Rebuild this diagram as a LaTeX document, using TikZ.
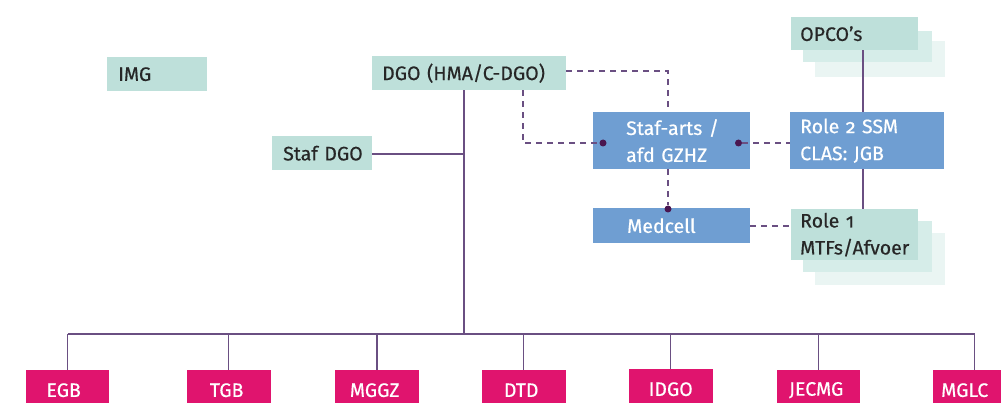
\documentclass[tikz,border=0pt]{standalone}
\usepackage{fontspec}
\setmainfont[Numbers=OldStyle,FakeBold=0.5]{Fira Sans}
\definecolor{mint}{HTML}{BEE0DA}
\definecolor{mintB}{HTML}{D6EDE9}
\definecolor{mintC}{HTML}{EAF5F3}
\definecolor{bluebox}{HTML}{6F9ED2}
\definecolor{magbox}{HTML}{E0146E}
\definecolor{linec}{HTML}{6A4F82}
\definecolor{dotc}{HTML}{4A1650}
\tikzset{
  box/.style={rectangle, anchor=north west, inner sep=0pt, align=left, font=\fontsize{19.5}{27}\selectfont},
  mintbox/.style={box, fill=mint, text=black!85},
  bluebx/.style={box, fill=bluebox, text=white},
  magbx/.style={box, fill=magbox, text=white, align=center},
  conn/.style={draw=linec, line width=1.1pt},
  dconn/.style={draw=linec, line width=1.1pt, dash pattern=on 6pt off 5pt},
  dotn/.style={circle, fill=dotc, inner sep=0pt, minimum size=7pt}
}
\newcommand{\lp}[1]{\hspace*{#1pt}}
\begin{document}
\begin{tikzpicture}[x=1pt,y=-1pt]
\useasboundingbox (0,0) rectangle (1001,403);
% shadows
\fill[mintC] (815,41) rectangle (945,77);
\fill[mintB] (803,31) rectangle (932,62);
\fill[mintC] (815,233) rectangle (945,285);
\fill[mintB] (803,221) rectangle (932,272);
% nodes
\node[mintbox, text width=100pt, minimum height=34pt] (img) at (107,57) {\lp{11}IMG};
\node[mintbox, text width=194pt, minimum height=34pt] (dgo) at (372,56) {\lp{10}DGO (HMA/C-DGO)};
\node[mintbox, text width=100pt, minimum height=34pt] (staf) at (272,136) {\lp{11}Staf DGO};
\node[mintbox, text width=127pt, minimum height=33pt] (opco) at (791,17) {\lp{9}OPCO’s};
\node[bluebx, text width=157pt, minimum height=57pt] (stafarts) at (593,112) {\lp{33}Staf-arts /\\\lp{33}afd GZHZ};
\node[bluebx, text width=154pt, minimum height=57pt] (role2) at (790,112) {\lp{10}Role 2 SSM\\\lp{10}CLAS: JGB};
\node[bluebx, text width=157pt, minimum height=35pt] (medcell) at (593,208) {\lp{34}Medcell};
\node[mintbox, text width=127pt, minimum height=51pt] (role1) at (791,209) {\lp{9}Role 1\\\lp{9}MTFs/Afvoer};
% bottom boxes
\node[magbx, text width=83pt, minimum height=40pt] (egb) at (26,370) {EGB\hspace*{8pt}};
\node[magbx, text width=84pt, minimum height=40pt] (tgb) at (187,370) {TGB\hspace*{5pt}};
\node[magbx, text width=84pt, minimum height=40pt] (mggz) at (335,370) {MGGZ\hspace*{5pt}};
\node[magbx, text width=84pt, minimum height=40pt] (dtd) at (481.5,370) {DTD\hspace*{5pt}};
\node[magbx, text width=84pt, minimum height=40pt] (idgo) at (628.5,369) {IDGO};
\node[magbx, text width=83pt, minimum height=40pt] (jecmg) at (777,370) {JECMG\hspace*{5pt}};
\node[magbx, text width=84pt, minimum height=40pt, align=left] (mglc) at (933,370) {\lp{8}MGLC};
% coordinates
\coordinate (bus) at (464,334);
\coordinate (busL) at (67.5,334);
\coordinate (busR) at (975,334);
\coordinate (j1) at (464,154);
\coordinate (c1) at (668,71);
\coordinate (c2) at (523,143);
% solid connectors
\draw[conn] (dgo.south -| bus) -- (bus);
\draw[conn] (staf.east |- j1) -- (j1);
\draw[conn] (busL) -- (busR);
\draw[conn] (67.5,334) -- (egb.north -| 67.5,0);
\draw[conn] (228.8,334) -- (tgb.north -| 228.8,0);
\draw[conn] (377,334) -- (mggz.north -| 377,0);
\draw[conn] (523.5,334) -- (dtd.north -| 523.5,0);
\draw[conn] (670.5,334) -- (idgo.north -| 670.5,0);
\draw[conn] (818.5,334) -- (jecmg.north -| 818.5,0);
\draw[conn] (974.5,334) -- (mglc.north -| 974.5,0);
\draw[conn] (opco.south -| 863,0) -- (role2.north -| 863,0);
\draw[conn] (role2.south -| 863,0) -- (role1.north -| 863,0);
% dashed connectors
\node[dotn] (dL) at (603,143) {};
\node[dotn] (dR) at (738.5,143) {};
\node[dotn] (dM) at (668,209) {};
\draw[dconn] (dgo.east |- c1) -- (c1) -- (stafarts.north -| c1);
\draw[dconn] (dgo.south -| c2) -- (c2) -- (dL);
\draw[dconn] (dR) -- (role2.west |- dR);
\draw[dconn] (stafarts.south -| dM) -- (dM);
\draw[dconn] (medcell.east |- 0,226) -- (role1.west |- 0,226);
\end{tikzpicture}
\end{document}
